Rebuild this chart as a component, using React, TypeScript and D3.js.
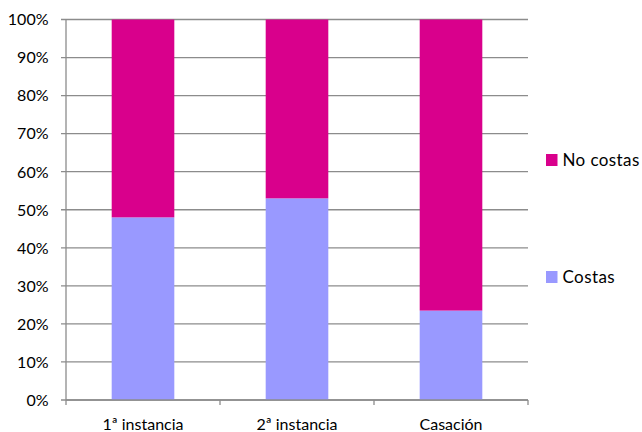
import React from "react";
import * as d3 from "d3";

const categories = ["1ª instancia", "2ª instancia", "Casación"];
const costas = [48, 53, 23.5];
const noCostas = [52, 47, 76.5];
const seriesNames = ["Costas", "No costas"];
const seriesColors = ["#9999FF", "#D9008C"];
const yTicks = [0, 10, 20, 30, 40, 50, 60, 70, 80, 90, 100];

const W = 642, H = 432;
const left = 66, right = 528, top = 19.5, bottom = 400;
const font = "Lato, 'Open Sans', sans-serif";

export default function App() {
  const x = d3.scaleBand().domain(categories).range([left, right]).paddingInner(0.5934).paddingOuter(0.2967);
  const y = d3.scaleLinear().domain([0, 100]).range([bottom, top]);
  const stackData = categories.map((c, i) => ({ cat: c, Costas: costas[i], "No costas": noCostas[i] }));
  const stacked = d3.stack<any>().keys(seriesNames)(stackData);
  const step = (right - left) / categories.length;
  const legendY = [154, 271];
  return (
    <svg width={W} height={H} style={{ position: "absolute", left: 0, top: 0 }}>
      <rect width={W} height={H} fill="#fff" />
      {yTicks.map((t) => (
        <g key={t}>
          <line x1={left - 5} x2={right} y1={y(t)} y2={y(t)} stroke="#8c8c8c" strokeWidth={1.3} />
          <text x={48.5} y={y(t) + 5.8} textAnchor="end" fontFamily={font} fontSize={16} fill="#000">{t}%</text>
        </g>
      ))}
      {stacked.map((s, si) =>
        s.map((d, i) => (
          <rect key={si + "-" + i} x={x(categories[i])} width={x.bandwidth()} y={y(d[1])} height={y(d[0]) - y(d[1])} fill={seriesColors[si]} />
        ))
      )}
      <line x1={left} x2={left} y1={top} y2={bottom} stroke="#8c8c8c" strokeWidth={1.3} />
      <line x1={left} x2={right} y1={bottom} y2={bottom} stroke="#8c8c8c" strokeWidth={1.3} />
      {d3.range(categories.length + 1).map((k) => (
        <line key={k} x1={left + k * step} x2={left + k * step} y1={bottom} y2={bottom + 5} stroke="#8c8c8c" strokeWidth={1.3} />
      ))}
      {categories.map((c) => (
        <text key={c} x={(x(c) as number) + x.bandwidth() / 2} y={430} textAnchor="middle" fontFamily={font} fontSize={16} fill="#000">{c}</text>
      ))}
      {[1, 0].map((si, k) => (
        <g key={si} transform={`translate(546, ${legendY[k]})`}>
          <rect x={0} y={0} width={11.5} height={12} fill={seriesColors[si]} />
          <text x={16.5} y={12} fontFamily={font} fontSize={17} letterSpacing={0.4} fill="#000">{seriesNames[si]}</text>
        </g>
      ))}
    </svg>
  );
}
